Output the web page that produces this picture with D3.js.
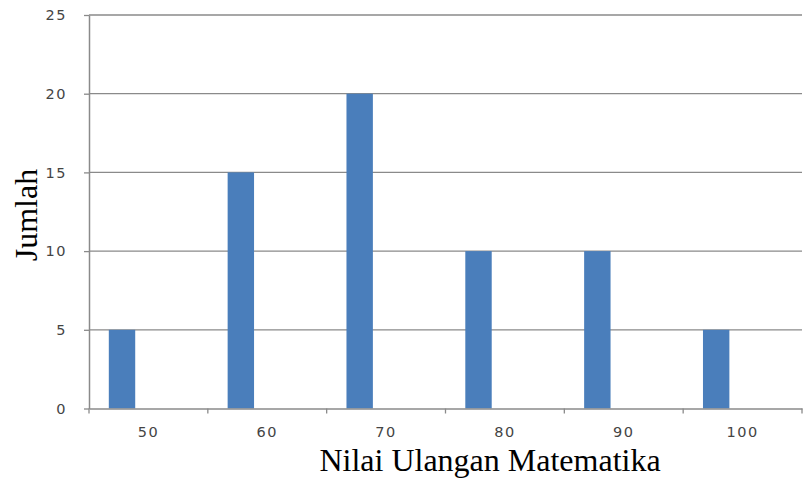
<!DOCTYPE html>
<html><head><meta charset="utf-8">
<script src="https://cdn.jsdelivr.net/npm/d3@7"></script>
<style>body{margin:0;background:#fff}svg{display:block}</style>
</head><body><svg id="c" width="803" height="486"></svg>
<script>
const categories = ["50","60","70","80","90","100"];
const values = [5, 15, 20, 10, 10, 5];
const yTicks = [0, 5, 10, 15, 20, 25];
const xTitle = "Nilai Ulangan Matematika";
const yTitle = "Jumlah";

const svg = d3.select("#c");
const m = {left: 89, right: 802, top: 15, bottom: 408.5};
const x = d3.scaleBand().domain(categories).range([m.left, m.right]).padding(0);
const y = d3.scaleLinear().domain([0, 25]).range([m.bottom, m.top]);
const grey = "#8a8a8a";
const tickFont = "DejaVu Sans, Verdana, sans-serif";

// gridlines
svg.append("g").selectAll("line").data(yTicks.filter(d => d > 0)).join("line")
  .attr("x1", m.left).attr("x2", m.right)
  .attr("y1", d => y(d)).attr("y2", d => y(d))
  .attr("stroke", grey).attr("stroke-width", 1.3);

// bars (series slot = first of three, gap 150%)
const slot = x.bandwidth() / 4.5;
svg.append("g").selectAll("rect").data(values).join("rect")
  .attr("x", (d, i) => x(categories[i]) + slot * 0.75)
  .attr("width", slot)
  .attr("y", d => y(d))
  .attr("height", d => y(0) - y(d))
  .attr("fill", "#4a7ebb");

// y axis
const ya = svg.append("g").attr("transform", `translate(${m.left},0)`)
  .call(d3.axisLeft(y).tickValues(yTicks).tickSize(5).tickPadding(17).tickSizeOuter(0));
ya.select(".domain").attr("stroke", grey).attr("stroke-width", 1.5);
ya.selectAll(".tick line").attr("stroke", grey).attr("stroke-width", 1.3);
ya.selectAll(".tick text").attr("fill", "#444")
  .style("font-family", tickFont).style("font-size", "14.5px")
  .style("letter-spacing", "1.5px");

// x axis
const xa = svg.append("g").attr("transform", `translate(0,${y(0)})`)
  .call(d3.axisBottom(x).tickSize(0).tickPadding(18));
xa.select(".domain").attr("stroke", grey).attr("stroke-width", 1.5);
xa.selectAll(".tick text").attr("fill", "#444")
  .style("font-family", tickFont).style("font-size", "14.5px")
  .style("letter-spacing", "1.5px");
// boundary tick marks
svg.append("g").selectAll("line").data(categories.concat(["end"])).join("line")
  .attr("x1", (d, i) => i < categories.length ? x(d) : m.right)
  .attr("x2", (d, i) => i < categories.length ? x(d) : m.right)
  .attr("y1", y(0)).attr("y2", y(0) + 5)
  .attr("stroke", grey).attr("stroke-width", 1.3);

// titles
svg.append("text").attr("x", 490).attr("y", 471).attr("text-anchor", "middle")
  .style("font-family", "Liberation Serif, Times New Roman, serif").style("font-size", "32px")
  .attr("fill", "#000").text(xTitle);
svg.append("text").attr("transform", "translate(37,215) rotate(-90)").attr("text-anchor", "middle")
  .style("font-family", "Liberation Serif, Times New Roman, serif").style("font-size", "32px")
  .attr("fill", "#000").text(yTitle);
</script></body></html>
